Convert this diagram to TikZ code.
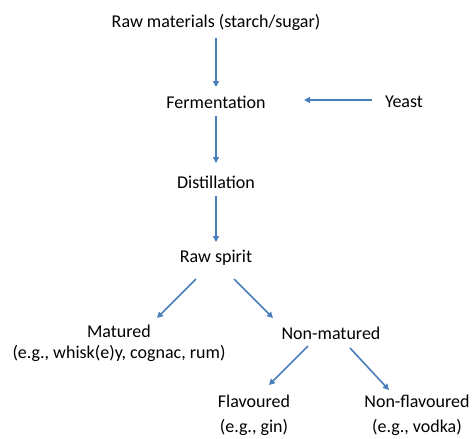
\documentclass[tikz,border=0pt]{standalone}
\usepackage{fontspec}
\setmainfont{Carlito}
\usetikzlibrary{arrows.meta}
\definecolor{arr}{HTML}{4A7EBB}
\begin{document}
\begin{tikzpicture}[x=1pt,y=-1pt,
  lbl/.style={font=\fontsize{18}{21}\selectfont, inner sep=0pt, anchor=center},
  flow/.style={draw=arr, line width=1.6pt, -{Triangle[length=6pt,width=6pt]}}]
\useasboundingbox (0,0) rectangle (472,439);
\node[lbl] (raw) at (216,22) {Raw materials (starch/sugar)};
\node[lbl] (ferm) at (216,102) {Fermentation};
\node[lbl] (yeast) at (404,102) {Yeast};
\node[lbl] (dist) at (216,182) {Distillation};
\node[lbl] (spirit) at (216,258) {Raw spirit};
\node[lbl, align=center] (mat) at (119,343) {Matured\\[0pt](e.g., whisk(e)y, cognac, rum)};
\node[lbl] (nonmat) at (331,333) {Non-matured};
\node[lbl, align=center] (flav) at (254,415) {Flavoured\\[4pt](e.g., gin)};
\node[lbl, align=center] (nonflav) at (417,415) {Non-flavoured\\[4pt](e.g., vodka)};
\coordinate (ys) at (372,100); \coordinate (ye) at (304,100);
\coordinate (s1) at (196,279); \coordinate (e1) at (157,318);
\coordinate (s2) at (234,279); \coordinate (e2) at (273,318);
\coordinate (s3) at (308,346); \coordinate (e3) at (269,385);
\coordinate (s4) at (350,348); \coordinate (e4) at (389,390);
\draw[flow] (raw.south |- 0,38) -- (216,87);
\draw[flow] (ys) -- (ye);
\draw[flow] (216,116) -- (216,163);
\draw[flow] (216,196) -- (216,242);
\draw[flow] (s1) -- (e1);
\draw[flow] (s2) -- (e2);
\draw[flow] (s3) -- (e3);
\draw[flow] (s4) -- (e4);
\end{tikzpicture}
\end{document}
